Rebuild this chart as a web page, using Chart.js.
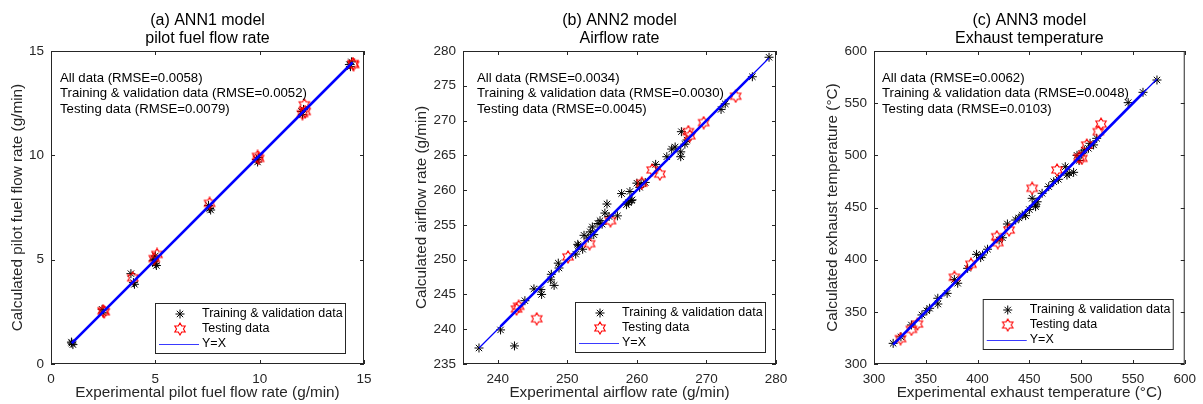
<!DOCTYPE html>
<html>
<head>
<meta charset="utf-8">
<script src="https://cdn.jsdelivr.net/npm/chart.js@4.4.0/dist/chart.umd.min.js"></script>
<style>
  body { margin: 0; background: #fff; }
  #wrap { position: relative; width: 1203px; height: 404px; }
  #wrap canvas { position: absolute; top: 0; }
</style>
</head>
<body>
<div id="wrap">
  <canvas id="chartA" width="400" height="404" style="left:0"></canvas>
  <canvas id="chartB" width="400" height="404" style="left:400px"></canvas>
  <canvas id="chartC" width="403" height="404" style="left:800px"></canvas>
</div>
<script>
// values (experimental x, calculated y)

// (a) ANN1 - pilot fuel flow rate
const ticksA = [0, 5, 10, 15];
const trainA = [[1.0,1.0],[1.05,0.93],[0.98,1.05],[2.45,2.62],[2.5,2.45],[3.83,4.33],[3.95,3.9],[4.0,3.82],
  [4.95,5.0],[5.0,4.8],[5.05,4.72],[5.0,5.18],[4.9,4.95],[7.55,7.6],[7.6,7.45],[7.65,7.38],
  [9.85,9.8],[9.9,9.68],[9.95,9.9],[12.0,12.1],[12.1,12.2],[12.05,11.95],[14.3,14.35],[14.4,14.48],[14.35,14.25]];
const testA = [[2.55,2.5],[2.5,2.55],[3.92,4.13],[5.08,5.25],[4.95,5.05],[7.6,7.7],[9.9,9.95],[9.95,9.85],
  [12.14,12.42],[12.18,12.1],[12.05,12.0],[14.47,14.4],[14.5,14.35]];
const lineA = [1.0, 14.45];
const thickA = [1.0, 14.45];
const notesA = ['All data (RMSE=0.0058)', 'Training & validation data (RMSE=0.0052)', 'Testing data (RMSE=0.0079)'];

// (b) ANN2 - airflow rate
const ticksBx = [240, 250, 260, 270, 280];
const ticksBy = [235, 240, 245, 250, 255, 260, 265, 270, 275, 280];
const trainB = [[237.3,237.3],[240.4,239.9],[242.4,237.6],[243.9,244.1],[245.2,245.8],[246.3,245.0],[246.2,245.7],
  [247.6,247.1],[247.7,247.9],[248.1,246.3],[248.7,249.5],[248.8,248.8],[251.2,250.8],[251.5,252.2],[251.6,252.0],
  [252.2,251.5],[252.4,253.5],[253.0,253.1],[253.3,254.0],[253.6,254.7],[253.8,253.6],[254.4,255.2],[254.7,255.6],
  [255.0,255.1],[255.4,256.7],[255.7,258.0],[256.0,256.2],[257.2,256.3],[258.5,257.9],[258.8,258.2],[259.2,258.5],
  [257.8,259.5],[259.0,259.8],[259.3,258.6],[260.0,261.0],[260.4,260.4],[261.2,261.1],[260.6,260.9],[262.7,263.7],
  [264.3,264.8],[265.0,265.9],[265.5,266.2],[266.4,268.4],[266.3,265.5],[266.3,264.8],[267.2,267.2],[266.9,266.6],
  [272.1,271.6],[272.7,272.4],[276.6,276.3],[279.0,279.1]];
const testB = [[242.7,242.9],[243.0,243.3],[245.6,241.5],[250.1,250.4],[253.2,252.3],[256.2,255.6],[260.7,261.0],
  [262.2,262.9],[263.3,262.3],[267.4,268.4],[267.6,267.8],[269.6,269.7],[274.2,273.5]];
const lineB = [237.3, 279.0];
const thickB = [240.4, 276.6];
const notesB = ['All data (RMSE=0.0034)', 'Training & validation data (RMSE=0.0030)', 'Testing data (RMSE=0.0045)'];

// (c) ANN3 - exhaust temperature
const ticksC = [300, 350, 400, 450, 500, 550, 600];
const trainC = [[318.5,319.8],[326,326],[336.1,337.4],[346.3,347.0],[351,351],[353.7,353.4],[361.6,363.0],[361.6,357.5],
  [370.6,367.7],[380.8,377.4],[377.6,380.9],[390.4,391.7],[399.0,405.1],[403,402],[404.8,404.5],[409.6,410.0],
  [420.8,418.9],[424,421],[428.8,434.2],[436.8,438.0],[440,440],[443.1,442.8],[446.4,442.2],[450,448],[456.0,450.8],
  [457.5,455.5],[452.7,458.8],[455.9,452.4],[462.3,463.6],[468.7,470.0],[473.5,474.7],[478,477],[484.7,489.1],
  [492.7,483.7],[488.5,482.8],[486.3,481.1],[496,500],[500.6,501.9],[498,495],[503,505],[507.0,506.7],
  [508.6,511.5],[512,510],[515.0,516.3],[545.4,550.5],[559.7,560.4],[573.2,572.2]];
const testC = [[325.6,324.3],[336.1,333.2],[341.9,338.3],[377.6,383.1],[393.6,395.6],[418.6,422.0],[419.5,416.3],
  [430.4,428.4],[452.7,468.4],[476.7,486.0],[498,498],[500.6,497.1],[505.4,509.9],[516.6,522.7],[519.2,530.0]];
const lineC = [318.5, 573.2];
const thickC = [318.5, 560];
const notesC = ['All data (RMSE=0.0062)', 'Training & validation data (RMSE=0.0048)', 'Testing data (RMSE=0.0103)'];

const legendLabels = ['Training & validation data', 'Testing data', 'Y=X'];

const AXIS = '#262626';
const FONT = '"Liberation Sans", Arial, sans-serif';

// red hexagram marker (outline only), like matlab 'h'
function hexagram(size, color) {
  const c = document.createElement('canvas');
  c.width = c.height = size;
  const g = c.getContext('2d');
  const r = size / 2 - 1, ri = r / Math.sqrt(3), m = size / 2;
  g.beginPath();
  for (let i = 0; i < 12; i++) {
    const a = -Math.PI / 2 + i * Math.PI / 6;
    const rr = i % 2 === 0 ? r : ri;
    const px = m + rr * Math.cos(a), py = m + rr * Math.sin(a);
    if (i === 0) g.moveTo(px, py); else g.lineTo(px, py);
  }
  g.closePath();
  g.strokeStyle = color;
  g.lineWidth = 1.1;
  g.stroke();
  return c;
}
const hexMark = hexagram(14, '#ff0000');

const toPts = arr => arr.map(p => ({x: p[0], y: p[1]}));
const diag = rng => [{x: rng[0], y: rng[0]}, {x: rng[1], y: rng[1]}];

// box, inward ticks, titles, notes and the little legend
const framePlugin = {
  id: 'frame',
  afterDatasetsDraw(chart, args, o) {
    const {ctx, chartArea: a, scales} = chart;
    ctx.save();
    ctx.strokeStyle = AXIS;
    ctx.lineWidth = 1;
    ctx.strokeRect(a.left + 0.5, a.top + 0.5, a.right - a.left - 1, a.bottom - a.top - 1);
    ctx.beginPath();
    scales.x.ticks.forEach(t => {
      const px = Math.round(scales.x.getPixelForValue(t.value)) + 0.5;
      ctx.moveTo(px, a.bottom); ctx.lineTo(px, a.bottom - 4);
      ctx.moveTo(px, a.top); ctx.lineTo(px, a.top + 4);
    });
    scales.y.ticks.forEach(t => {
      const py = Math.round(scales.y.getPixelForValue(t.value)) + 0.5;
      ctx.moveTo(a.left, py); ctx.lineTo(a.left + 4, py);
      ctx.moveTo(a.right, py); ctx.lineTo(a.right - 4, py);
    });
    ctx.stroke();

    // title
    ctx.fillStyle = '#000';
    ctx.textAlign = 'center';
    ctx.textBaseline = 'middle';
    ctx.font = '16px ' + FONT;
    const cx = (a.left + a.right) / 2;
    o.title.forEach((t, i) => ctx.fillText(t, cx, 21 + i * 17.5));

    // rmse notes
    ctx.textAlign = 'left';
    ctx.font = '13.2px ' + FONT;
    o.notes.forEach((t, i) => ctx.fillText(t, a.left + o.notesDx, 78 + i * 15.5));

    // legend
    const lx = a.right - o.legRight - 191, ly = a.bottom - o.legBottom - 51;
    ctx.fillStyle = '#fff';
    ctx.fillRect(lx, ly, 191, 51);
    ctx.strokeStyle = '#262626';
    ctx.strokeRect(lx + 0.5, ly + 0.5, 190, 50);
    ctx.font = '12.5px ' + FONT;
    ctx.fillStyle = '#000';
    const rows = [ly + 11, ly + 26, ly + 41];
    ctx.strokeStyle = '#000';
    if (Chart.helpers && Chart.helpers.drawPoint) {
      Chart.helpers.drawPoint(ctx, {pointStyle: 'star', radius: 4.5, rotation: 0, borderWidth: 1}, lx + 25, rows[0]);
    }
    ctx.drawImage(hexMark, lx + 25 - 7, rows[1] - 7);
    ctx.strokeStyle = '#3a3aff';
    ctx.beginPath();
    ctx.moveTo(lx + 4, rows[2] + 0.5); ctx.lineTo(lx + 44, rows[2] + 0.5);
    ctx.stroke();
    legendLabels.forEach((t, i) => ctx.fillText(t, lx + 47, rows[i]));
    ctx.restore();
  }
};

function makeChart(id, cfg) {
  const tickFont = {family: FONT, size: 13.5};
  const fixTicks = vals => scale => { scale.ticks = vals.map(v => ({value: v})); };
  return new Chart(document.getElementById(id), {
    type: 'scatter',
    data: {
      datasets: [
        {data: diag(cfg.thick), showLine: true, borderColor: '#0000ff', borderWidth: 2.6, pointRadius: 0},
        {data: diag(cfg.line), showLine: true, borderColor: '#0000ff', borderWidth: 1.2, pointRadius: 0},
        {data: toPts(cfg.test), pointStyle: hexMark, pointRadius: 6, borderColor: '#ff0000'},
        {data: toPts(cfg.train), pointStyle: 'star', pointRadius: 4.5, borderColor: '#000', borderWidth: 1}
      ]
    },
    options: {
      responsive: false,
      animation: false,
      events: [],
      layout: {padding: {top: 51, right: cfg.padRight, left: 0, bottom: 0}},
      plugins: {
        legend: {display: false},
        tooltip: {enabled: false},
        frame: cfg.frame
      },
      scales: {
        x: {
          type: 'linear', min: cfg.xMin, max: cfg.xMax,
          afterBuildTicks: fixTicks(cfg.xTicks),
          afterFit: s => { s.height = 40; },
          grid: {display: false, drawTicks: false},
          border: {display: false},
          ticks: {font: tickFont, color: AXIS, padding: 7, autoSkip: false, maxRotation: 0},
          title: {display: true, text: cfg.xTitle, color: AXIS, font: {family: FONT, size: 15.3}, padding: {top: 0, bottom: 2}}
        },
        y: {
          type: 'linear', min: cfg.yMin, max: cfg.yMax,
          afterBuildTicks: fixTicks(cfg.yTicks),
          afterFit: s => { s.width = cfg.yWidth; },
          grid: {display: false, drawTicks: false},
          border: {display: false},
          ticks: {font: tickFont, color: AXIS, padding: 7, autoSkip: false},
          title: {display: true, text: cfg.yTitle, color: AXIS, font: {family: FONT, size: 15.3}, padding: {top: cfg.yTitlePad, bottom: 0}}
        }
      }
    },
    plugins: [framePlugin]
  });
}

makeChart('chartA', {
  train: trainA, test: testA, line: lineA, thick: thickA,
  xMin: 0, xMax: 15, yMin: 0, yMax: 15, xTicks: ticksA, yTicks: ticksA,
  xTitle: 'Experimental pilot fuel flow rate (g/min)', yTitle: 'Calculated pilot fuel flow rate (g/min)',
  yWidth: 51, padRight: 36, yTitlePad: 9,
  frame: {title: ['(a) ANN1 model', 'pilot fuel flow rate'], notes: notesA, notesDx: 9, legRight: 18, legBottom: 10}
});

makeChart('chartB', {
  train: trainB, test: testB, line: lineB, thick: thickB,
  xMin: 235, xMax: 280, yMin: 235, yMax: 280, xTicks: ticksBx, yTicks: ticksBy,
  xTitle: 'Experimental airflow rate (g/min)', yTitle: 'Calculated airflow rate (g/min)',
  yWidth: 63, padRight: 24, yTitlePad: 13,
  frame: {title: ['(b) ANN2 model', 'Airflow rate'], notes: notesB, notesDx: 14, legRight: 10, legBottom: 11}
});

makeChart('chartC', {
  train: trainC, test: testC, line: lineC, thick: thickC,
  xMin: 300, xMax: 600, yMin: 300, yMax: 600, xTicks: ticksC, yTicks: ticksC,
  xTitle: 'Experimental exhaust temperature (°C)', yTitle: 'Calculated exhaust temperature (°C)',
  yWidth: 74, padRight: 16, yTitlePad: 24,
  frame: {title: ['(c) ANN3 model', 'Exhaust temperature'], notes: notesC, notesDx: 8, legRight: 11, legBottom: 14}
});
</script>
</body>
</html>
